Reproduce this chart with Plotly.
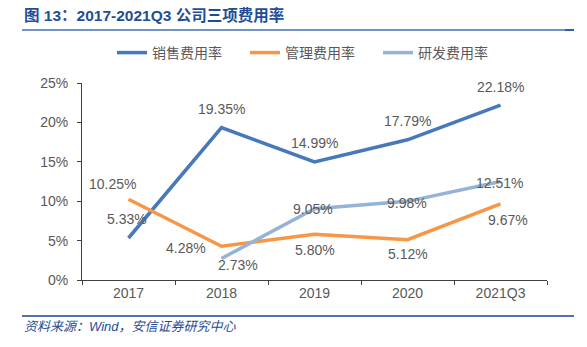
import plotly.graph_objects as go

# Categories and expense ratios (%)
years = ["2017", "2018", "2019", "2020", "2021Q3"]
sales_rate = [5.33, 19.35, 14.99, 17.79, 22.18]
admin_rate = [10.25, 4.28, 5.80, 5.12, 9.67]
rd_rate = [None, 2.73, 9.05, 9.98, 12.51]

series_names = ["销售费用率", "管理费用率", "研发费用率"]
series_colors = ["#4778B9", "#F79646", "#95B3D7"]

# label offsets (px) per series/point
sales_shift = [(-2, 19), (0, 19), (0, 19), (0, 19), (0, 18)]
admin_shift = [(-16, 15), (-36, -2), (0, -16), (0, -14), (7, -16)]
rd_shift = [None, (16, -7), (-2, 0), (-1, -2), (-1, -2)]

CJK = "Liberation Sans, Arial, Noto Sans CJK SC"
LABEL_COLOR = "#595959"

fig = go.Figure()
for name, vals, color in zip(series_names, [sales_rate, admin_rate, rd_rate], series_colors):
    fig.add_trace(go.Scatter(
        x=years, y=vals, name=name, mode="lines",
        line=dict(color=color, width=3.5),
        connectgaps=False,
    ))

annotations = []
for vals, shifts in [(sales_rate, sales_shift), (admin_rate, admin_shift), (rd_rate, rd_shift)]:
    for i, (v, s) in enumerate(zip(vals, shifts)):
        if v is None:
            continue
        # category axis: position annotations by category index
        annotations.append(dict(
            x=i, y=v, xref="x", yref="y", text=f"{v:.2f}%",
            showarrow=False, xshift=s[0], yshift=s[1],
            font=dict(family=CJK, size=14, color=LABEL_COLOR),
        ))

W, H = 587, 347
L, R, T, B = 82, 40, 83, 67


def px_x(p):
    return (p - L) / (W - L - R)


def px_y(p):
    return (H - B - p) / (H - T - B)


# title and source text
annotations.append(dict(
    x=px_x(22), y=px_y(15), xref="paper", yref="paper", xanchor="left", yanchor="middle",
    text="<b>图 13：2017-2021Q3 公司三项费用率</b>", showarrow=False,
    font=dict(family=CJK, size=15.5, color="#1F4E96"),
))
annotations.append(dict(
    x=px_x(22), y=px_y(326), xref="paper", yref="paper", xanchor="left", yanchor="middle",
    text="<i>资料来源：Wind，安信证券研究中心</i>", showarrow=False,
    font=dict(family=CJK, size=13, color="#1F4E96"),
))

shapes = [
    dict(type="line", xref="paper", yref="paper", x0=px_x(22), x1=px_x(574),
         y0=px_y(30), y1=px_y(30), line=dict(color="#6F94C9", width=2)),
    dict(type="line", xref="paper", yref="paper", x0=px_x(565), x1=px_x(574),
         y0=px_y(30), y1=px_y(30), line=dict(color="#2F5FA8", width=2)),
    dict(type="line", xref="paper", yref="paper", x0=px_x(22), x1=px_x(574),
         y0=px_y(316), y1=px_y(316), line=dict(color="#4F72B0", width=2)),
]

fig.update_layout(
    width=W, height=H,
    margin=dict(l=L, r=R, t=T, b=B),
    paper_bgcolor="white", plot_bgcolor="white",
    font=dict(family=CJK, size=14, color=LABEL_COLOR),
    showlegend=True,
    legend=dict(
        orientation="h", x=px_x(112), y=px_y(53), xanchor="left", yanchor="middle",
        font=dict(family="Noto Sans CJK SC", size=14, color=LABEL_COLOR),
        entrywidth=88, itemwidth=30, bgcolor="rgba(0,0,0,0)",
    ),
    annotations=annotations,
    shapes=shapes,
    xaxis=dict(
        type="category", range=[-0.5, 4.5], showline=True, linecolor="#404040", linewidth=1,
        ticks="outside", ticklen=4, tickcolor="#404040", tickson="boundaries",
        showgrid=False, zeroline=False, tickangle=0,
        tickfont=dict(family=CJK, size=14, color=LABEL_COLOR),
    ),
    yaxis=dict(
        range=[0, 25], dtick=5, ticksuffix="%", showline=True,
        linecolor="#404040", linewidth=1, ticks="outside", ticklen=4,
        tickcolor="#404040", showgrid=False, zeroline=False,
        tickfont=dict(family=CJK, size=14, color=LABEL_COLOR),
        ticklabelstandoff=6,
    ),
)

fig.write_html("out.html")
